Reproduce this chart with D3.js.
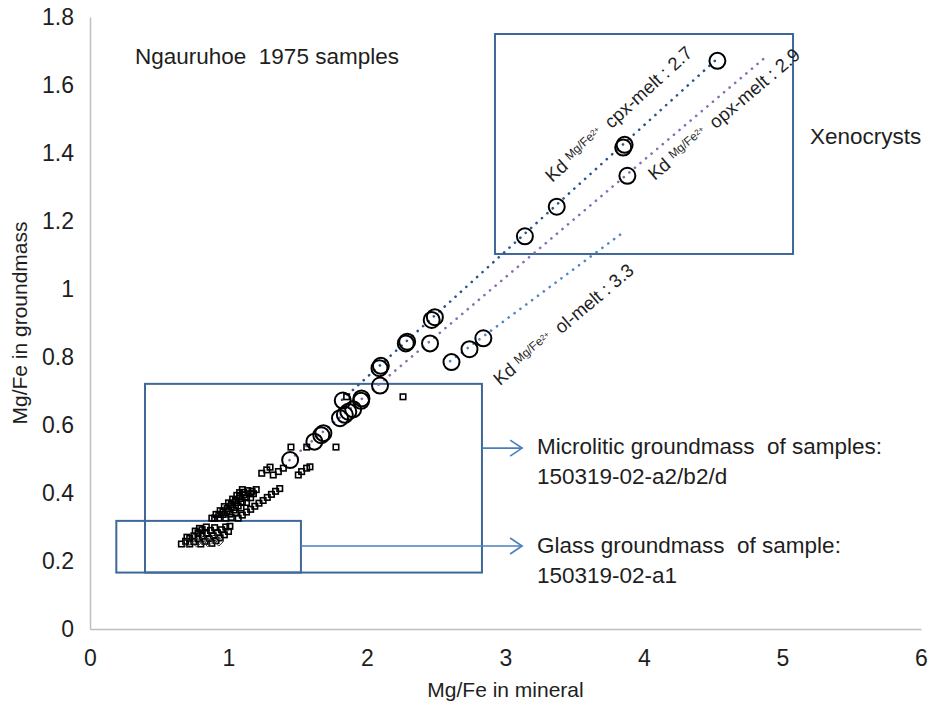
<!DOCTYPE html>
<html>
<head>
<meta charset="utf-8">
<script src="https://cdn.jsdelivr.net/npm/d3@7"></script>
<style>
  body { margin: 0; background: #fff; }
  text { font-family: "Liberation Sans", Arial, sans-serif; fill: #1e1e1e; }
</style>
</head>
<body>
<svg id="chart" width="932" height="702"></svg>
<script>
// ---- data ----------------------------------------------------------------
const xTicks = [0, 1, 2, 3, 4, 5, 6];
const yTicks = [0, 0.2, 0.4, 0.6, 0.8, 1, 1.2, 1.4, 1.6, 1.8];

// mineral (xenocryst / phenocryst) analyses: [Mg/Fe mineral, Mg/Fe groundmass]
const mineralPoints = [
  [4.53, 1.671], [3.86, 1.424], [3.85, 1.416], [3.88, 1.333], [3.37, 1.242], [3.14, 1.155],
  [2.467, 0.909], [2.49, 0.917], [2.28, 0.840], [2.29, 0.845], [2.455, 0.840],
  [2.09, 0.767], [2.10, 0.774], [2.094, 0.716],
  [2.61, 0.785], [2.74, 0.823], [2.84, 0.855],
  [1.825, 0.672], [1.957, 0.671], [1.96, 0.678], [1.865, 0.639], [1.84, 0.630],
  [1.805, 0.620], [1.90, 0.646], [1.685, 0.576], [1.67, 0.570], [1.62, 0.551],
  [1.445, 0.497]
];

// microlitic groundmass analyses
const microlitePoints = [
  [2.26, 0.683], [1.853, 0.683], [1.451, 0.535], [1.565, 0.535], [1.776, 0.535],
  [1.24, 0.458], [1.276, 0.468], [1.30, 0.476], [1.323, 0.453], [1.36, 0.463],
  [1.396, 0.473], [1.504, 0.453], [1.528, 0.463], [1.564, 0.473], [1.588, 0.477],
  [0.88, 0.326], [0.91, 0.337], [0.94, 0.348], [0.97, 0.360], [1.00, 0.371],
  [1.03, 0.382], [1.06, 0.393], [1.08, 0.401], [1.10, 0.410],
  [0.90, 0.326], [0.93, 0.337], [0.96, 0.345], [0.99, 0.354], [1.02, 0.366],
  [1.05, 0.378], [1.08, 0.390], [1.11, 0.402],
  [0.93, 0.326], [0.96, 0.337], [0.99, 0.348], [1.02, 0.360], [1.05, 0.372],
  [1.08, 0.384], [1.11, 0.395], [1.14, 0.407],
  [0.98, 0.326], [1.01, 0.338], [1.04, 0.350], [1.07, 0.362], [1.10, 0.374],
  [1.13, 0.386], [1.16, 0.398], [1.17, 0.405],
  [1.02, 0.328], [1.05, 0.341], [1.09, 0.356], [1.13, 0.372], [1.16, 0.386],
  [1.18, 0.398], [1.20, 0.410],
  [1.07, 0.326], [1.10, 0.335], [1.13, 0.344], [1.16, 0.352], [1.19, 0.361],
  [1.22, 0.370], [1.25, 0.378], [1.28, 0.387], [1.31, 0.396], [1.34, 0.405],
  [1.37, 0.413]
];

// glass groundmass analyses
const glassPoints = [
  [0.66, 0.250], [0.69, 0.258], [0.72, 0.266], [0.75, 0.274], [0.78, 0.283],
  [0.81, 0.292], [0.84, 0.300],
  [0.72, 0.250], [0.75, 0.257], [0.78, 0.265], [0.81, 0.273], [0.84, 0.281],
  [0.87, 0.290], [0.90, 0.298],
  [0.80, 0.250], [0.83, 0.258], [0.86, 0.266], [0.89, 0.274], [0.92, 0.283],
  [0.95, 0.292], [0.98, 0.300],
  [0.88, 0.252], [0.91, 0.260], [0.94, 0.268], [0.97, 0.277], [1.00, 0.287],
  [1.01, 0.302], [0.70, 0.270], [0.76, 0.288], [0.79, 0.296]
];
const glassDiamondPoints = [
  [0.70, 0.253], [0.77, 0.254], [0.85, 0.255], [0.93, 0.257], [0.82, 0.262], [0.90, 0.265]
];

// Kd(Mg/Fe2+) mineral–melt equilibrium lines: y = x / Kd
const kdPhases = ["cpx", "opx", "ol"];
const kdValues = [2.7, 2.9, 3.3];
const kdFrom   = [1.82, 1.44, 2.60];
const kdTo     = [4.53, 4.89, 3.85];

// ---- layout --------------------------------------------------------------
const svg = d3.select("#chart");
const x = d3.scaleLinear().domain([0, 6]).range([90, 921]);
const y = d3.scaleLinear().domain([0, 1.8]).range([629, 17]);

const axisGrey = "#bfbfbf";
const boxBlue = "#3f6798";
const arrowBlue = "#4a7ebb";
const kdColors = ["#2c5586", "#8a6cb3", "#4f86c6"];
const tickSize = 23;
const titleSize = 21;
const captionSize = 22.5;

// axes
const gx = svg.append("g").attr("transform", `translate(0,${y(0)})`)
  .call(d3.axisBottom(x).tickValues(xTicks).tickSize(0).tickSizeOuter(0).tickPadding(21)
    .tickFormat(d3.format("d")));
const gy = svg.append("g").attr("transform", `translate(${x(0)},0)`)
  .call(d3.axisLeft(y).tickValues(yTicks).tickSize(0).tickSizeOuter(0).tickPadding(16)
    .tickFormat(d => String(+d.toFixed(1))));
[gx, gy].forEach(g => {
  g.select(".domain").attr("stroke", axisGrey).attr("stroke-width", 1.5);
  g.selectAll("text").attr("font-size", tickSize)
    .attr("font-family", '"Liberation Sans", Arial, sans-serif').attr("fill", "#1e1e1e");
});

svg.append("text").attr("x", (x(0) + x(6)) / 2).attr("y", 697)
  .attr("text-anchor", "middle").attr("font-size", titleSize).text("Mg/Fe in mineral");
svg.append("text")
  .attr("transform", `translate(27,${(y(0) + y(1.8)) / 2}) rotate(-90)`)
  .attr("text-anchor", "middle").attr("font-size", titleSize).text("Mg/Fe in groundmass");

// region boxes (data units)
const regions = [
  { x0: 2.924, x1: 5.076, y0: 1.103, y1: 1.750 },   // xenocrysts
  { x0: 0.397, x1: 2.830, y0: 0.166, y1: 0.721 },   // microlitic groundmass
  { x0: 0.190, x1: 1.523, y0: 0.166, y1: 0.318 }    // glass groundmass
];
svg.append("g").selectAll("rect").data(regions).join("rect")
  .attr("x", d => x(d.x0)).attr("y", d => y(d.y1))
  .attr("width", d => x(d.x1) - x(d.x0)).attr("height", d => y(d.y0) - y(d.y1))
  .attr("fill", "none").attr("stroke", boxBlue).attr("stroke-width", 2);

// arrows from the groundmass boxes to their captions
const arrowY = [0.532, 0.244];
const arrowStart = [regions[1].x1, regions[2].x1];
const arrowEnd = 3.12;
const arrows = svg.append("g").attr("stroke", arrowBlue).attr("stroke-width", 1.6).attr("fill", "none");
arrowY.forEach((v, i) => {
  const yy = y(v), x0 = x(arrowStart[i]), x1 = x(arrowEnd);
  arrows.append("line").attr("x1", x0).attr("x2", x1).attr("y1", yy).attr("y2", yy);
  arrows.append("path").attr("d", `M${x1 - 12},${yy - 8}L${x1},${yy}L${x1 - 12},${yy + 8}`);
});

// Kd lines (dotted)
const kdG = svg.append("g");
kdValues.forEach((kd, i) => {
  kdG.append("line")
    .attr("x1", x(kdFrom[i])).attr("y1", y(kdFrom[i] / kd))
    .attr("x2", x(kdTo[i])).attr("y2", y(kdTo[i] / kd))
    .attr("stroke", kdColors[i]).attr("stroke-width", 2.6)
    .attr("stroke-linecap", "round").attr("stroke-dasharray", "0.1 7.2");
});

// Kd labels, rotated along their lines (ol label sits at a steeper angle)
const kdLabelAt = [3.43, 3.97, 2.728];
const kdLabelOffset = [19, -23, -50];
const kdLabelRot = [null, null, 0.70];
const kdFont = 18.5;
kdValues.forEach((kd, i) => {
  const px = x(kdLabelAt[i]), py = y(kdLabelAt[i] / kd);
  const ang = Math.atan2(y(0) - y(1 / kd), x(1) - x(0));
  const rot = kdLabelRot[i] === null ? ang : kdLabelRot[i];
  const ox = -Math.sin(rot) * kdLabelOffset[i], oy = -Math.cos(rot) * kdLabelOffset[i];
  const t = svg.append("text")
    .attr("transform", `translate(${px + ox},${py + oy}) rotate(${-rot * 180 / Math.PI})`)
    .attr("font-size", kdFont);
  t.append("tspan").text("Kd ");
  t.append("tspan").attr("font-size", 12).attr("dy", -5).text("Mg/Fe");
  t.append("tspan").attr("font-size", 8).attr("dy", -2).text("2+");
  t.append("tspan").attr("font-size", kdFont).attr("dy", 7).attr("dx", 4)
    .attr("xml:space", "preserve").text(" " + kdPhases[i] + "-melt : " + kd);
});

// groundmass markers
const sq = 5.5;
svg.append("g").selectAll("rect").data(microlitePoints.concat(glassPoints)).join("rect")
  .attr("x", d => x(d[0]) - sq / 2).attr("y", d => y(d[1]) - sq / 2)
  .attr("width", sq).attr("height", sq)
  .attr("fill", "none").attr("stroke", "#000").attr("stroke-width", 1.6);
svg.append("g").selectAll("path").data(glassDiamondPoints).join("path")
  .attr("d", d => `M${x(d[0])},${y(d[1]) - 4.5}l4.5,4.5l-4.5,4.5l-4.5,-4.5z`)
  .attr("fill", "none").attr("stroke", "#333").attr("stroke-width", 1);

// mineral circles
svg.append("g").selectAll("circle").data(mineralPoints).join("circle")
  .attr("cx", d => x(d[0])).attr("cy", d => y(d[1])).attr("r", 8)
  .attr("fill", "none").attr("stroke", "#000").attr("stroke-width", 2);

// captions
const caps = [
  ["Ngauruhoe  1975 samples", 135, 64],
  ["Xenocrysts", 810, 144],
  ["Microlitic groundmass  of samples:", 537, 454],
  ["150319-02-a2/b2/d", 537, 484],
  ["Glass groundmass  of sample:", 537, 553],
  ["150319-02-a1", 537, 583]
];
svg.append("g").selectAll("text").data(caps).join("text")
  .attr("x", d => d[1]).attr("y", d => d[2]).attr("font-size", captionSize)
  .attr("xml:space", "preserve").text(d => d[0]);
</script>
</body>
</html>
